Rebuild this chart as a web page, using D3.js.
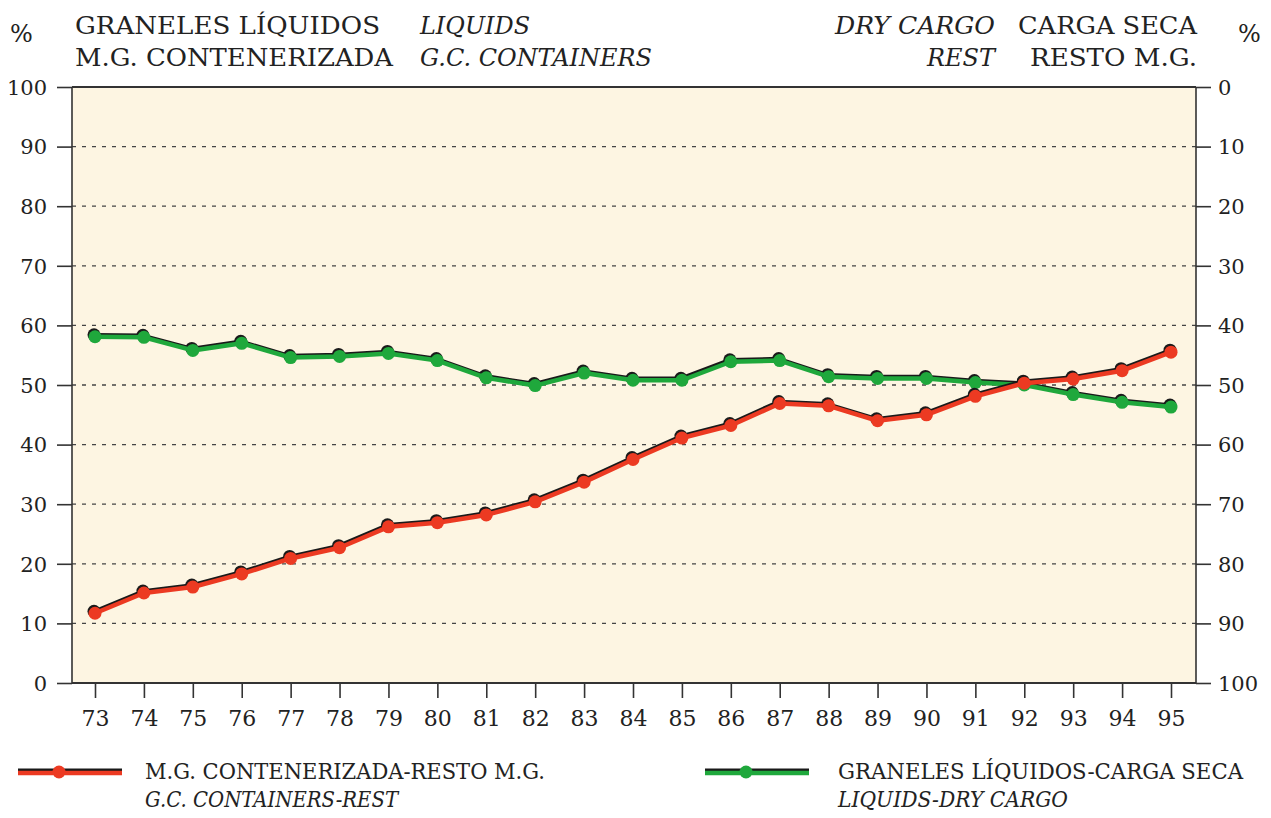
<!DOCTYPE html>
<html>
<head>
<meta charset="utf-8">
<script src="https://cdn.jsdelivr.net/npm/d3@7"></script>
<style>
  body { margin: 0; background: #fff; }
  #chart text { font-family: 'DejaVu Serif', 'Liberation Serif', 'Times New Roman', serif; fill: #222; }
</style>
</head>
<body>
<svg id="chart" width="1271" height="818"></svg>
<script>
// data
const years = ["73","74","75","76","77","78","79","80","81","82","83","84","85","86","87","88","89","90","91","92","93","94","95"];
const containers = [11.7, 15.1, 16.1, 18.3, 20.9, 22.7, 26.2, 26.9, 28.2, 30.4, 33.7, 37.5, 41.1, 43.2, 46.9, 46.5, 44.0, 45.0, 48.1, 50.3, 51.0, 52.4, 55.5];
const liquids = [58.1, 58.0, 55.8, 57.0, 54.6, 54.8, 55.3, 54.1, 51.2, 49.9, 52.0, 50.8, 50.8, 53.9, 54.1, 51.4, 51.1, 51.1, 50.4, 50.0, 48.4, 47.1, 46.3];
const leftTicks = [0,10,20,30,40,50,60,70,80,90,100];

const svg = d3.select("#chart");
const margin = {top: 87, right: 75, bottom: 135, left: 72};
const width = +svg.attr("width") - margin.left - margin.right;
const height = +svg.attr("height") - margin.top - margin.bottom;
const g = svg.append("g").attr("transform", "translate(" + margin.left + "," + margin.top + ")");

const x = d3.scalePoint().domain(years).range([23, width - 25]);
const y = d3.scaleLinear().domain([0, 100]).range([height, 0]);
const yRight = d3.scaleLinear().domain([100, 0]).range([height, 0]);

g.append("rect")
    .attr("width", width)
    .attr("height", height)
    .attr("fill", "#fdf5e2");

// dashed gridlines
g.append("g")
    .selectAll("line")
    .data(leftTicks.filter(d => d > 0 && d < 100))
    .join("line")
    .attr("x1", 0)
    .attr("x2", width)
    .attr("y1", d => y(d))
    .attr("y2", d => y(d))
    .attr("stroke", "#444")
    .attr("stroke-width", 1.3)
    .attr("stroke-dasharray", "4,6");

const styleAxis = (sel, size) => {
    sel.attr("font-family", null);
    sel.select(".domain").remove();
    sel.selectAll("line").attr("stroke", "#333").attr("stroke-width", 1.6);
    sel.selectAll("text")
        .attr("font-size", size)
        .attr("fill", "#222");
};

g.append("g")
    .call(d3.axisLeft(y).tickValues(leftTicks).tickSize(15).tickPadding(10))
    .call(styleAxis, 21)
    .selectAll("text").attr("dy", "0.35em");

g.append("g")
    .attr("transform", "translate(" + width + ",0)")
    .call(d3.axisRight(yRight).tickValues(leftTicks).tickSize(15).tickPadding(7))
    .call(styleAxis, 21)
    .selectAll("text").attr("dy", "0.35em");

g.append("g")
    .attr("transform", "translate(0," + height + ")")
    .call(d3.axisBottom(x).tickSize(15).tickPadding(12))
    .call(styleAxis, 22)
    .selectAll("text").attr("dy", "0.71em");

// frame
g.append("line").attr("x1", 0).attr("x2", width).attr("y1", 0).attr("y2", 0)
    .attr("stroke", "#333").attr("stroke-width", 2.2);
g.append("line").attr("x1", 0).attr("x2", width).attr("y1", height).attr("y2", height)
    .attr("stroke", "#333").attr("stroke-width", 1.8);
g.append("line").attr("x1", 0).attr("x2", 0).attr("y1", 0).attr("y2", height)
    .attr("stroke", "#333").attr("stroke-width", 1.6);
g.append("line").attr("x1", width).attr("x2", width).attr("y1", 0).attr("y2", height)
    .attr("stroke", "#333").attr("stroke-width", 1.6);

const line = d3.line()
    .x((d, i) => x(years[i]))
    .y(d => y(d));

function drawSeries(values, color) {
    const s = g.append("g");
    // dark shadow under the coloured line
    s.append("path")
        .datum(values)
        .attr("fill", "none")
        .attr("stroke", "#1a1a1a")
        .attr("stroke-width", 3.5)
        .attr("stroke-linejoin", "round")
        .attr("transform", "translate(-1,-2)")
        .attr("d", line);
    s.selectAll(".shadow")
        .data(values)
        .join("circle")
        .attr("class", "shadow")
        .attr("cx", (d, i) => x(years[i]) - 1)
        .attr("cy", d => y(d) - 2)
        .attr("r", 6.5)
        .attr("fill", "#1a1a1a");
    s.append("path")
        .datum(values)
        .attr("fill", "none")
        .attr("stroke", color)
        .attr("stroke-width", 4.5)
        .attr("stroke-linejoin", "round")
        .attr("d", line);
    s.selectAll(".dot")
        .data(values)
        .join("circle")
        .attr("class", "dot")
        .attr("cx", (d, i) => x(years[i]))
        .attr("cy", d => y(d))
        .attr("r", 6.5)
        .attr("fill", color);
}

drawSeries(liquids, "#1fa83c");
drawSeries(containers, "#ec3a22");

// headers, stretched to the widths of the original lettering
const headers = [
    {t: "GRANELES LÍQUIDOS", x: 75, y: 34, w: 305},
    {t: "M.G. CONTENERIZADA", x: 75, y: 66, w: 318},
    {t: "LIQUIDS", x: 420, y: 34, w: 110, it: true},
    {t: "G.C. CONTAINERS", x: 420, y: 66, w: 232, it: true},
    {t: "DRY CARGO", x: 835, y: 34, w: 160, it: true},
    {t: "REST", x: 927, y: 66, w: 68, it: true},
    {t: "CARGA SECA", x: 1018, y: 34, w: 179},
    {t: "RESTO M.G.", x: 1030, y: 66, w: 167}
];
const hdr = svg.append("g");
hdr.append("text").attr("x", 10).attr("y", 42).attr("font-size", 24).text("%");
hdr.append("text").attr("x", 1238).attr("y", 42).attr("font-size", 24).text("%");
hdr.selectAll(".h")
    .data(headers)
    .join("text")
    .attr("class", "h")
    .attr("x", d => d.x)
    .attr("y", d => d.y)
    .attr("font-size", 25)
    .attr("font-style", d => d.it ? "italic" : null)
    .attr("textLength", d => d.w)
    .attr("lengthAdjust", "spacingAndGlyphs")
    .text(d => d.t);

// legend
const legendItems = [
    {x: 18, color: "#ec3a22", main: "M.G. CONTENERIZADA-RESTO M.G.", sub: "G.C. CONTAINERS-REST", tx: 145, mw: 400, sw: 253},
    {x: 705, color: "#1fa83c", main: "GRANELES LÍQUIDOS-CARGA SECA", sub: "LIQUIDS-DRY CARGO", tx: 838, mw: 405, sw: 230}
];
const lg = svg.append("g").selectAll("g").data(legendItems).join("g");
lg.append("line")
    .attr("x1", d => d.x).attr("x2", d => d.x + 104)
    .attr("y1", 770).attr("y2", 770)
    .attr("stroke", "#1a1a1a").attr("stroke-width", 3);
lg.append("line")
    .attr("x1", d => d.x).attr("x2", d => d.x + 104)
    .attr("y1", 773).attr("y2", 773)
    .attr("stroke", d => d.color).attr("stroke-width", 4.5);
lg.append("circle")
    .attr("cx", d => d.x + 41).attr("cy", 772).attr("r", 6.5)
    .attr("fill", d => d.color);
lg.append("text")
    .attr("x", d => d.tx).attr("y", 779)
    .attr("font-size", 22)
    .attr("textLength", d => d.mw)
    .attr("lengthAdjust", "spacingAndGlyphs")
    .text(d => d.main);
lg.append("text")
    .attr("x", d => d.tx).attr("y", 807)
    .attr("font-size", 22)
    .attr("font-style", "italic")
    .attr("textLength", d => d.sw)
    .attr("lengthAdjust", "spacingAndGlyphs")
    .text(d => d.sub);
</script>
</body>
</html>
